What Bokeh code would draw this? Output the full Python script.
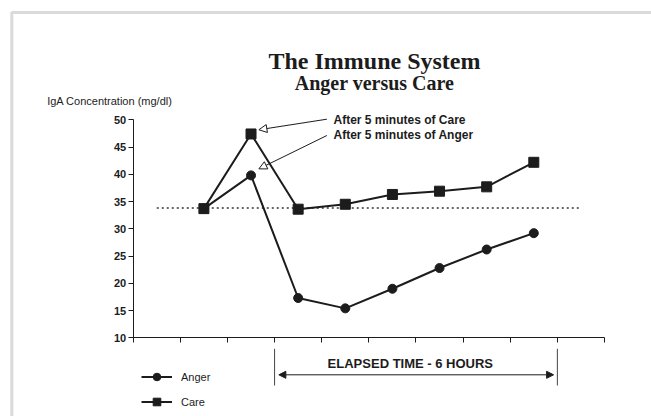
from bokeh.plotting import figure
from bokeh.models import (Range1d, FixedTicker, Label, Arrow, NormalHead,
                          BoxAnnotation, Legend, LegendItem)
from bokeh.embed import file_html
from bokeh.resources import INLINE

# ---- data ----
time_x = [1.5, 2.5, 3.5, 4.5, 5.5, 6.5, 7.5, 8.5]
anger = [33.7, 39.8, 17.3, 15.4, 19.0, 22.8, 26.2, 29.2]
care = [33.7, 47.4, 33.6, 34.5, 36.3, 36.9, 37.7, 42.2]
baseline_x = [0.5, 9.5]
baseline_y = [33.8, 33.8]
y_ticks = [10, 15, 20, 25, 30, 35, 40, 45, 50]
x_ticks = [0, 1, 2, 3, 4, 5, 6, 7, 8, 9, 10]

INK = "#1c1c1c"
SANS = "Liberation Sans"
SERIF = "Liberation Serif"

W, H = 651, 416
PPX, PPY = 47.13, 5.45          # pixels per data unit
X0_PX, Y10_PX = 132.7, 337.3    # pixel position of x=0 and y=10
x_start = -X0_PX / PPX
x_end = x_start + W / PPX
y_end = 10 + Y10_PX / PPY
y_start = 10 - (H - Y10_PX) / PPY

p = figure(width=W, height=H, output_backend="svg", toolbar_location=None,
           x_range=Range1d(x_start, x_end), y_range=Range1d(y_start, y_end),
           min_border=0, min_border_left=0, min_border_right=0,
           min_border_top=0, min_border_bottom=0)
p.outline_line_color = None
p.grid.visible = False
p.background_fill_color = "white"
p.border_fill_color = "white"

# axes at fixed positions inside the frame
p.xaxis.fixed_location = 10
p.xaxis.bounds = (0, 10)
p.xaxis.ticker = FixedTicker(ticks=x_ticks)
p.xaxis.major_label_overrides = {t: "" for t in x_ticks}
p.xaxis.major_tick_out = 5
p.xaxis.major_tick_in = 0
p.xaxis.minor_tick_line_color = None
p.xaxis.axis_line_color = INK
p.xaxis.major_tick_line_color = INK

p.yaxis.fixed_location = 0
p.yaxis.bounds = (10, 50)
p.yaxis.ticker = FixedTicker(ticks=y_ticks)
p.yaxis.major_tick_out = 5
p.yaxis.major_tick_in = 0
p.yaxis.minor_tick_line_color = None
p.yaxis.axis_line_color = INK
p.yaxis.major_tick_line_color = INK
p.yaxis.major_label_text_font = SANS
p.yaxis.major_label_text_font_style = "bold"
p.yaxis.major_label_text_font_size = "11px"
p.yaxis.major_label_text_color = INK
p.yaxis.major_label_standoff = 2

# baseline dotted
p.line(baseline_x, baseline_y, line_color="#333333", line_width=1.5, line_dash="2 3")

# series
la = p.line(time_x, anger, line_color=INK, line_width=2)
lc = p.line(time_x, care, line_color=INK, line_width=2)
sa = p.scatter(time_x, anger, marker="circle", size=9, fill_color=INK, line_color=INK)
sc = p.scatter(time_x, care, marker="square", size=10, fill_color=INK, line_color=INK)

# legend (below the axis)
legend = Legend(items=[LegendItem(label="Anger", renderers=[la, sa]),
                       LegendItem(label="Care", renderers=[lc, sc])],
                location=(141, 5), orientation="vertical",
                padding=0, margin=0, spacing=6, glyph_width=31, glyph_height=19,
                label_height=19, label_standoff=9,
                label_text_font=SANS, label_text_font_size="11px", label_text_color=INK,
                border_line_color=None, background_fill_alpha=0)
p.add_layout(legend, "center")

# border frame
p.add_layout(BoxAnnotation(left=11.3, right=2000, top=12, bottom=2000,
                           left_units="canvas", right_units="canvas",
                           top_units="canvas", bottom_units="canvas",
                           fill_alpha=0, line_color="#858585", line_width=3))

# titles
p.add_layout(Label(x=5.12, y=60.88, text="The Immune System", text_align="center",
                   text_baseline="alphabetic", text_font=SERIF, text_font_style="bold",
                   text_font_size="24px", text_color=INK))
p.add_layout(Label(x=5.12, y=56.72, text="Anger versus Care", text_align="center",
                   text_baseline="alphabetic", text_font=SERIF, text_font_style="bold",
                   text_font_size="20px", text_color=INK))
p.add_layout(Label(x=-1.826, y=53.41, text="IgA Concentration (mg/dl)", text_align="left",
                   text_baseline="middle", text_font=SANS, text_font_size="11px",
                   text_color=INK))

# callouts
p.add_layout(Label(x=4.25, y=50.0, text="After 5 minutes of Care", text_align="left",
                   text_baseline="middle", text_font=SANS, text_font_style="bold",
                   text_font_size="12px", text_color=INK))
p.add_layout(Label(x=4.25, y=47.12, text="After 5 minutes of Anger", text_align="left",
                   text_baseline="middle", text_font=SANS, text_font_style="bold",
                   text_font_size="12px", text_color=INK))
for (x0, y0, x1, y1) in [(4.11, 50.11, 2.667, 48.17), (4.11, 47.12, 2.667, 41.0)]:
    p.add_layout(Arrow(x_start=x0, y_start=y0, x_end=x1, y_end=y1, line_color=INK, line_width=1,
                       end=NormalHead(size=8, fill_color="white", line_color=INK, line_width=1)))

# elapsed time bracket
for bx in [3.0, 9.0]:
    p.add_layout(Arrow(x_start=bx, y_start=7.98, x_end=bx, y_end=1.25, end=None,
                       line_color="#444444", line_width=1))
p.add_layout(Arrow(x_start=3.09, y_start=3.21, x_end=8.92, y_end=3.21, line_color=INK, line_width=1,
                   start=NormalHead(size=7, fill_color=INK, line_color=INK, line_width=1),
                   end=NormalHead(size=7, fill_color=INK, line_color=INK, line_width=1)))
p.add_layout(Label(x=5.88, y=5.28, text="ELAPSED TIME - 6 HOURS", text_align="center",
                   text_baseline="middle", text_font=SANS, text_font_style="bold",
                   text_font_size="13px", text_color=INK))

open("out.html", "w").write(file_html(p, INLINE))
